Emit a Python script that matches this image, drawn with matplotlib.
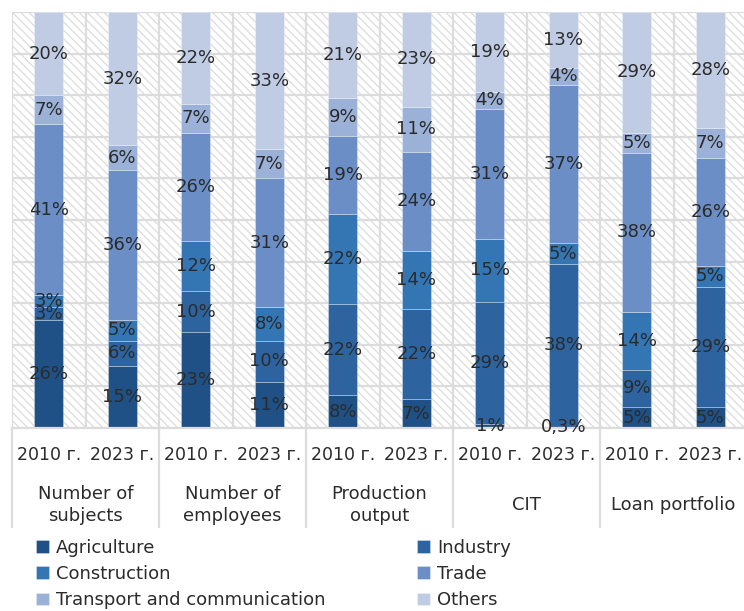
import numpy as np
import matplotlib.pyplot as plt
from matplotlib.patches import Rectangle

groups = ['Number of\nsubjects', 'Number of\nemployees', 'Production\noutput', 'CIT', 'Loan portfolio']
years = ['2010 г.', '2023 г.']

sectors = ['Agriculture', 'Industry', 'Construction', 'Trade', 'Transport and communication', 'Others']
colors = ['#1f5186', '#2d64a0', '#3475b4', '#6a8ec5', '#9bb1d7', '#bfcce4']

# shares, %, in bar order: subjects, employees, output, CIT, loans (2010, 2023 each)
agriculture = [26, 15, 23, 11, 8, 7, 1, 0.3, 5, 5]
industry = [3, 6, 10, 10, 22, 22, 29, 38, 9, 29]
construction = [3, 5, 12, 8, 22, 14, 15, 5, 14, 5]
trade = [41, 36, 26, 31, 19, 24, 31, 37, 38, 26]
transport = [7, 6, 7, 7, 9, 11, 4, 4, 5, 7]
others = [20, 32, 22, 33, 21, 23, 19, 13, 29, 28]

series = np.array([agriculture, industry, construction, trade, transport, others], dtype=float)
shares = series / series.sum(axis=0) * 100   # 100% stacked
n = series.shape[1]
x = np.arange(n)

W, H = 744, 611
plt.rcParams['font.family'] = ['DejaVu Sans']
plt.rcParams['hatch.color'] = '#d4d4d4'
plt.rcParams['hatch.linewidth'] = 0.9
txt = '#2b2b2b'
grid = '#dcdcdc'

fig = plt.figure(figsize=(W / 100, H / 100), dpi=100)
ax = fig.add_axes([12 / W, 1 - 428 / H, 735 / W, 416 / H])

# hatched plot area
ax.add_patch(Rectangle((0, 0), 1, 1, transform=ax.transAxes, facecolor='white',
                       edgecolor=grid, hatch='\\\\\\\\', lw=0, zorder=0))

ax.set_xlim(-0.5, n - 0.5)
ax.set_ylim(0, 100)
ax.set_yticks(np.arange(0, 101, 10))
ax.set_xticks(np.arange(-0.5, n, 1), minor=True)
ax.grid(True, which='major', axis='y', color=grid, lw=1.6, zorder=1)
ax.grid(True, which='minor', axis='x', color=grid, lw=1.6, zorder=1)
ax.tick_params(which='both', length=0, labelleft=False)
for s in ['top', 'right', 'left']:
    ax.spines[s].set_visible(False)
ax.spines['bottom'].set_color(grid)
ax.spines['bottom'].set_linewidth(1.6)

bottom = np.zeros(n)
handles = []
for name, col, vals, h in zip(sectors, colors, series, shares):
    bars = ax.bar(x, h, 0.4, bottom=bottom, color=col, label=name,
                  edgecolor=(1, 1, 1, 0.35), lw=0.6, zorder=2)
    handles.append(bars)
    for xi, b, hi, v in zip(x, bottom, h, vals):
        ax.text(xi, b + hi / 2, f'{v:g}%'.replace('.', ','), ha='center', va='center',
                fontsize=13, color=txt, zorder=3, clip_on=False)
    bottom += h

# year labels under each bar
ax.set_xticks(x)
ax.set_xticklabels(years * len(groups), fontsize=12.5, color=txt)
ax.tick_params(axis='x', which='major', pad=13)

# group labels and separators
trans = ax.get_xaxis_transform()
for i, g in enumerate(groups):
    ax.text(2 * i + 0.5, -0.185, g, transform=trans, ha='center', va='center',
            fontsize=13, color=txt, linespacing=1.35)
for b in np.arange(-0.5, n, 2):
    ax.plot([b, b], [0, -0.238], transform=trans, color=grid, lw=1.6, clip_on=False)

order = [0, 2, 4, 1, 3, 5]
fig.legend([handles[i] for i in order], [sectors[i] for i in order],
           loc='upper left', bbox_to_anchor=(36 / W, 1 - 539 / H), ncol=2,
           frameon=False, fontsize=13, handlelength=0.7, handleheight=0.7,
           handletextpad=0.4, labelspacing=0.45, columnspacing=5.1,
           borderpad=0, borderaxespad=0, labelcolor=txt)

fig.savefig('out.png', dpi=100)
